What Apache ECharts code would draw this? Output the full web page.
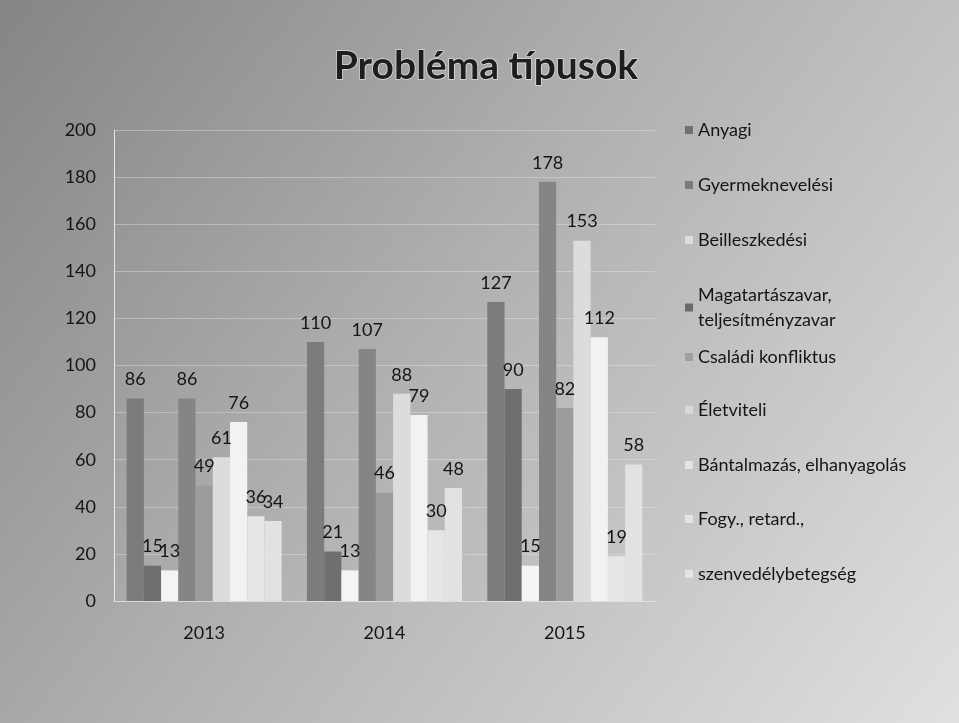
<!DOCTYPE html>
<html>
<head>
<meta charset="utf-8">
<script src="https://cdn.jsdelivr.net/npm/echarts@6/dist/echarts.min.js"></script>
<style>
html,body{margin:0;padding:0;}
#c{width:959px;height:723px;}
</style>
</head>
<body>
<div id="c"></div>
<script>
const categories = ['2013', '2014', '2015'];
const seriesNames = ['Anyagi', 'Gyermeknevelési', 'Beilleszkedési', 'Magatartászavar, teljesítményzavar', 'Családi konfliktus', 'Életviteli', 'Bántalmazás, elhanyagolás', 'Fogy., retard.,', 'szenvedélybetegség'];
const anyagi = [86, 110, 127];
const gyermeknevelesi = [15, 21, 90];
const beilleszkedesi = [13, 13, 15];
const magatartaszavar = [86, 107, 178];
const csaladi = [49, 46, 82];
const eletviteli = [61, 88, 153];
const bantalmazas = [76, 79, 112];
const fogyatekossag = [36, 30, 19];
const szenvedely = [34, 48, 58];
const yTicks = [0, 20, 40, 60, 80, 100, 120, 140, 160, 180, 200];

const values = [anyagi, gyermeknevelesi, beilleszkedesi, magatartaszavar, csaladi, eletviteli, bantalmazas, fogyatekossag, szenvedely];
const colors = ['#7c7c7c', '#6f6f6f', '#f4f4f4', '#858585', '#9c9c9c', '#dcdcdc', '#f2f2f2', '#e6e6e6', '#e2e2e2'];
const legendColors = ['#707070', '#7a7a7a', '#dedede', '#6a6a6a', '#a0a0a0', '#d8d8d8', '#e4e4e4', '#e4e4e4', '#e4e4e4'];
const legendCenters = [130, 185, 240, 295, 357, 410, 465, 519, 574];
const FONT = 'Lato, "Open Sans", sans-serif';

const chart = echarts.init(document.getElementById('c'));
chart.setOption({
  backgroundColor: {
    type: 'linear', x: 0, y: 0, x2: 1, y2: 1,
    colorStops: [
      {offset: 0, color: '#858585'},
      {offset: 0.45, color: '#b0b0b0'},
      {offset: 1, color: '#e0e0e0'}
    ]
  },
  animation: false,
  title: {
    text: 'Probléma típusok',
    left: 481, top: 42, textAlign: 'center',
    textStyle: {
      fontFamily: FONT, fontWeight: 'bold', fontSize: 39, color: '#1e1e1e',
      textBorderColor: 'rgba(235,235,235,0.8)', textBorderWidth: 1.5
    }
  },
  legend: seriesNames.map((n, i) => ({
    data: [{name: n, itemStyle: {color: legendColors[i]}}],
    orient: 'vertical',
    left: 685,
    top: legendCenters[i] - 12.5,
    padding: 0,
    icon: 'rect', itemWidth: 8, itemHeight: 8, itemGap: 4,
    formatter: name => name.replace(', teljes', ',\nteljes'),
    textStyle: {fontFamily: FONT, fontSize: 18, color: '#151515', lineHeight: 25}
  })),
  grid: {left: 114, right: 304, top: 130, bottom: 122, containLabel: false},
  xAxis: {
    type: 'category',
    data: categories,
    axisLine: {show: true, lineStyle: {color: 'rgba(230,230,230,0.6)'}},
    axisTick: {show: false},
    axisLabel: {fontFamily: FONT, fontSize: 18, color: '#151515', margin: 23}
  },
  yAxis: {
    type: 'value', min: 0, max: 200, interval: 20,
    axisLine: {show: true, lineStyle: {color: 'rgba(245,245,245,0.85)', width: 1}},
    axisTick: {show: false},
    splitLine: {show: true, lineStyle: {color: 'rgba(240,240,240,0.35)'}},
    axisLabel: {
      fontFamily: FONT, fontSize: 18, color: '#151515', margin: 18,
      formatter: v => yTicks.includes(v) ? String(v) : ''
    }
  },
  series: seriesNames.map((n, i) => ({
    name: n,
    type: 'bar',
    data: values[i],
    barGap: '0%',
    barCategoryGap: '14%',
    itemStyle: {color: colors[i]},
    label: {
      show: true, position: 'top', distance: 10,
      fontFamily: FONT, fontSize: 18, color: '#151515'
    }
  }))
});
</script>
</body>
</html>
